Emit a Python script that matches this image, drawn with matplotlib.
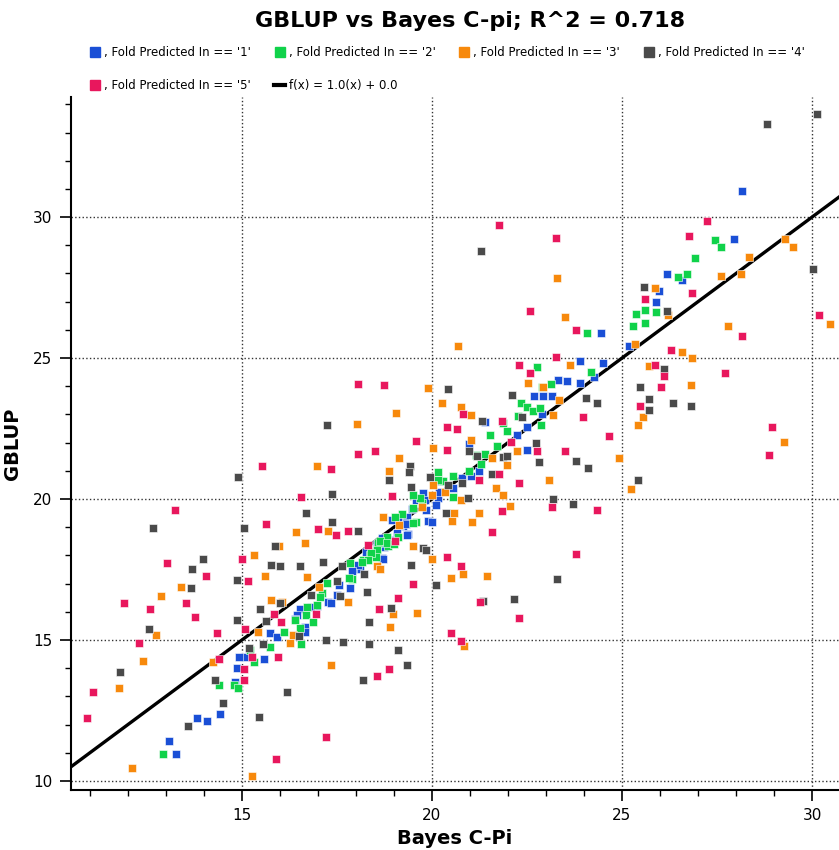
import numpy as np
import matplotlib
matplotlib.use('Agg')
import matplotlib.pyplot as plt
from matplotlib.lines import Line2D
from matplotlib.ticker import MultipleLocator

# values (Bayes C-Pi, GBLUP) per fold
fold1_x = [28.16, 27.95, 26.18, 26.58, 25.97, 25.89, 25.18, 24.45, 24.50, 23.89, 24.26, 23.32, 23.55, 23.89,
           22.68, 22.92, 23.16, 22.89, 22.50, 22.24, 22.50, 21.39, 20.97, 21.24, 21.03, 20.79, 20.24, 20.55,
           20.16, 19.76, 19.84, 19.89, 20.00, 20.11, 20.18, 19.82, 19.58, 19.47, 19.34, 19.29, 19.24, 19.37,
           19.11, 18.95, 19.08, 18.92, 19.16, 19.32, 19.34, 18.68, 18.74, 18.45, 18.26, 18.68, 18.55, 18.71,
           18.55, 18.11, 17.92, 18.05, 17.89, 17.84, 17.55, 17.50, 17.26, 17.34, 16.97, 16.82, 16.53, 16.45,
           16.40, 16.66, 16.66, 15.74, 15.92, 15.58, 15.11, 14.92, 14.87, 14.82, 14.42, 14.08, 13.82, 13.08, 13.26]
fold1_y = [30.92, 29.22, 27.98, 27.77, 27.38, 26.99, 25.43, 25.89, 24.82, 24.89, 24.33, 24.22, 24.18, 24.11,
           23.65, 23.65, 23.65, 23.01, 22.55, 22.27, 21.74, 22.73, 21.95, 20.99, 20.82, 20.74, 20.64, 20.39,
           20.04, 20.21, 19.61, 19.22, 19.18, 19.79, 20.25, 19.96, 19.96, 19.65, 19.36, 19.15, 19.04, 18.76,
           19.26, 19.26, 18.79, 18.55, 19.08, 19.11, 18.72, 18.62, 18.30, 18.12, 18.12, 17.91, 18.26, 17.87,
           18.40, 17.52, 17.52, 17.66, 17.45, 16.84, 16.95, 16.60, 16.35, 16.31, 16.21, 16.17, 16.10, 15.89,
           15.74, 15.46, 15.28, 15.25, 15.11, 14.33, 14.40, 14.40, 14.01, 13.51, 12.38, 12.13, 12.23, 11.42, 10.96]

fold2_x = [27.45, 27.61, 26.92, 26.47, 26.71, 25.37, 25.61, 25.89, 25.29, 25.61, 24.08, 24.18, 22.76, 23.13,
           22.89, 22.34, 22.50, 22.66, 22.84, 22.87, 22.26, 21.87, 21.97, 21.53, 21.71, 21.16, 21.39, 21.29,
           20.97, 20.55, 20.16, 20.29, 20.55, 20.16, 19.74, 19.68, 19.50, 19.50, 19.21, 19.58, 19.03, 19.11,
           18.82, 18.58, 18.84, 18.55, 18.37, 18.53, 18.63, 18.82, 18.99, 19.50, 18.18, 18.39, 18.32, 18.16,
           17.84, 17.89, 17.82, 17.24, 17.11, 17.05, 16.97, 16.71, 16.68, 16.87, 16.39, 16.53, 16.11, 16.55,
           15.74, 15.32, 15.21, 14.39, 14.79, 14.89, 12.92]
fold2_y = [29.18, 28.94, 28.55, 27.87, 27.98, 26.56, 26.70, 26.63, 26.13, 26.24, 25.89, 24.50, 24.68, 24.08,
           23.97, 23.40, 23.26, 23.12, 23.23, 22.62, 22.94, 22.70, 22.41, 22.27, 21.88, 21.56, 21.60, 21.24,
           20.99, 20.82, 20.96, 20.64, 20.07, 20.67, 19.86, 20.04, 20.14, 19.68, 19.47, 19.18, 19.36, 18.65,
           18.65, 18.44, 18.33, 18.19, 18.01, 17.94, 18.51, 18.44, 18.40, 19.15, 17.84, 18.09, 17.84, 17.77,
           17.73, 17.16, 17.20, 17.02, 16.67, 16.52, 16.24, 16.17, 15.89, 15.64, 15.71, 15.43, 15.28, 14.86,
           14.75, 14.22, 14.65, 13.40, 13.40, 13.30, 10.96]

fold3_x = [29.29, 29.50, 28.34, 27.61, 28.13, 25.87, 26.21, 23.29, 23.50, 30.47, 27.79, 25.34, 26.58, 26.84,
           20.68, 23.63, 22.53, 22.92, 23.34, 23.18, 25.71, 26.82, 25.55, 25.42, 29.26, 24.92, 25.24, 19.89,
           20.26, 20.76, 21.03, 20.03, 21.03, 22.24, 21.58, 21.97, 23.08, 21.68, 21.87, 22.05, 21.24, 20.58,
           20.53, 21.05, 20.03, 20.34, 20.76, 20.00, 20.50, 20.82, 21.45, 20.84, 19.13, 19.05, 18.03, 18.87,
           16.97, 16.42, 17.26, 16.66, 15.97, 15.32, 15.61, 16.71, 13.39, 12.87, 15.76, 16.05, 15.42, 16.26,
           16.34, 14.24, 12.74, 12.39, 11.76, 12.11, 15.26, 17.34, 17.79, 17.03, 18.55, 18.63, 19.50, 18.89,
           18.97, 19.61, 18.71, 19.13, 19.74, 20.00]
fold3_y = [29.22, 28.94, 28.58, 27.91, 27.98, 27.48, 26.52, 27.84, 26.45, 26.21, 26.13, 25.50, 25.21, 25.00,
           25.43, 24.75, 24.11, 23.97, 23.51, 22.98, 24.72, 24.04, 22.91, 22.62, 22.02, 21.45, 20.35, 23.94,
           23.40, 23.26, 22.98, 21.81, 22.09, 21.70, 21.45, 21.21, 20.67, 20.39, 20.14, 19.75, 19.50, 19.50,
           19.22, 19.18, 20.50, 20.25, 19.96, 17.87, 17.20, 17.34, 17.27, 14.79, 21.45, 23.05, 22.66, 20.99,
           21.17, 18.83, 18.87, 18.44, 18.33, 18.01, 17.27, 17.23, 16.88, 16.56, 16.42, 16.35, 15.28, 14.89,
           15.18, 14.22, 15.18, 14.26, 13.30, 10.46, 10.18, 14.11, 16.35, 16.88, 17.62, 17.52, 18.33, 15.46,
           15.92, 15.96, 19.36, 19.08, 19.72, 20.14]

fold4_x = [30.13, 28.82, 30.03, 25.58, 26.18, 21.29, 26.11, 25.47, 25.71, 25.71, 26.34, 26.82, 25.42, 24.05,
           24.34, 22.11, 20.42, 21.32, 22.37, 22.74, 20.97, 21.87, 21.97, 21.58, 22.82, 23.79, 24.11, 23.18,
           23.71, 20.37, 19.95, 20.42, 20.79, 20.95, 21.18, 19.76, 19.84, 20.11, 23.29, 21.34, 22.16, 19.42,
           19.39, 19.45, 18.87, 17.24, 14.89, 17.37, 17.37, 16.68, 12.66, 15.05, 15.87, 13.97, 13.68, 15.76,
           16.00, 16.53, 17.13, 17.63, 18.05, 14.87, 13.66, 16.00, 15.47, 15.63, 14.87, 12.55, 11.79, 13.58,
           14.50, 14.29, 15.45, 16.18, 15.18, 15.55, 16.50, 17.21, 17.66, 18.34, 18.18, 19.11, 19.34, 18.34,
           18.92, 17.58, 18.29, 16.82, 17.50, 18.21, 19.45]
fold4_y = [33.65, 33.30, 28.16, 27.52, 26.67, 28.79, 24.61, 23.97, 23.55, 23.16, 23.40, 23.30, 20.67, 23.58,
           23.40, 23.69, 23.90, 22.77, 22.91, 21.99, 21.70, 21.49, 21.52, 20.89, 21.31, 21.35, 21.10, 20.00,
           19.82, 19.50, 20.78, 20.50, 20.57, 20.04, 21.52, 18.26, 18.19, 16.95, 17.16, 16.38, 16.45, 21.17,
           20.96, 20.43, 20.67, 22.62, 20.78, 20.18, 19.18, 19.50, 18.97, 18.97, 18.33, 17.87, 17.52, 17.66,
           17.62, 17.62, 17.77, 17.62, 18.87, 17.13, 16.84, 16.31, 16.10, 15.67, 15.71, 15.39, 13.87, 11.95,
           12.77, 13.58, 12.27, 13.16, 14.72, 14.86, 15.14, 15.00, 14.93, 14.86, 13.58, 14.65, 14.11, 15.64,
           16.13, 16.56, 16.70, 16.60, 17.09, 17.34, 17.66]

fold5_x = [27.24, 26.76, 21.76, 23.26, 25.61, 26.84, 22.58, 30.18, 28.16, 23.79, 26.29, 23.26, 22.29, 22.58,
           25.87, 26.11, 26.03, 27.71, 25.47, 23.97, 28.95, 28.87, 24.66, 20.82, 20.39, 20.66, 21.84, 20.39,
           22.08, 22.76, 23.50, 21.76, 21.24, 22.29, 21.84, 23.16, 24.34, 21.58, 20.39, 20.76, 23.79, 21.26,
           22.29, 20.50, 20.76, 18.05, 18.74, 19.58, 18.05, 18.50, 17.34, 15.53, 16.55, 18.95, 17.00, 17.47,
           17.79, 15.63, 13.24, 13.03, 15.00, 15.16, 14.05, 11.89, 12.58, 13.53, 13.76, 15.84, 16.03, 12.29,
           14.34, 15.08, 14.39, 15.26, 15.05, 15.05, 11.08, 10.92, 15.89, 17.21, 15.95, 18.55, 18.87, 18.61,
           19.11, 16.95, 18.32, 19.03, 19.50]
fold5_y = [29.86, 29.33, 29.72, 29.26, 27.09, 27.30, 26.67, 26.52, 25.78, 25.99, 25.28, 25.04, 24.75, 24.47,
           24.75, 24.36, 23.97, 24.47, 23.30, 22.91, 22.55, 21.56, 22.23, 23.01, 22.55, 22.48, 22.77, 21.74,
           22.02, 21.70, 21.70, 20.89, 20.67, 20.57, 19.57, 19.72, 19.61, 18.83, 17.94, 17.62, 18.05, 16.35,
           15.78, 15.25, 14.96, 24.08, 24.04, 22.06, 21.60, 21.70, 21.06, 21.17, 20.07, 20.11, 18.94, 18.72,
           18.87, 19.11, 19.61, 17.73, 17.87, 17.09, 17.27, 16.31, 16.10, 16.31, 15.82, 15.92, 15.64, 14.89,
           15.25, 15.39, 14.33, 14.40, 13.97, 13.58, 13.16, 12.23, 10.78, 11.56, 14.40, 13.72, 13.97, 16.10,
           16.49, 15.92, 18.37, 18.51, 16.99]

fold_labels = ["1", "2", "3", "4", "5"]
fold_colors = ['#1a4fd6', '#10d24a', '#f7890c', '#4a4a4a', '#e8175d']

narrow = ['Liberation Sans Narrow', 'DejaVu Sans']

fig = plt.figure(figsize=(8.39, 8.5), dpi=100)
ax = fig.add_axes([70.5 / 839, 60 / 850, (839 - 70.5) / 839, 693 / 850])

xlim = (10.49, 30.71)
ylim = (9.68, 34.26)

# fitted line f(x) = 1.0(x) + 0.0
line_x = np.array(xlim)
ax.plot(line_x, 1.0 * line_x + 0.0, color='black', linewidth=2.4, zorder=2)

folds = [(fold1_x, fold1_y), (fold2_x, fold2_y), (fold3_x, fold3_y), (fold4_x, fold4_y), (fold5_x, fold5_y)]
for (fx, fy), c in zip(folds, fold_colors):
    ax.scatter(fx, fy, marker='s', s=34, color=c, edgecolors='white', linewidths=0.4, zorder=3)

ax.set_xlim(xlim)
ax.set_ylim(ylim)
ax.xaxis.set_major_locator(MultipleLocator(5))
ax.xaxis.set_minor_locator(MultipleLocator(1))
ax.yaxis.set_major_locator(MultipleLocator(5))
ax.yaxis.set_minor_locator(MultipleLocator(1))
ax.tick_params(which='major', length=8, width=1.2, labelsize=11, pad=5, direction='out')
ax.tick_params(which='minor', length=4.5, width=1.0, direction='out')
ax.grid(which='major', linestyle=':', color='#333333', linewidth=1.0)
for s in ['top', 'right']:
    ax.spines[s].set_visible(False)
ax.spines['left'].set_linewidth(1.5)
ax.spines['bottom'].set_linewidth(1.5)
ax.set_axisbelow(True)

ax.set_xlabel('Bayes C-Pi', fontsize=14, fontweight='bold', labelpad=4)
ax.set_ylabel('GBLUP', fontsize=14, fontweight='bold', labelpad=8)

fig.text(470 / 839, 1 - 21 / 850, 'GBLUP vs Bayes C-pi; R^2 = 0.718', ha='center', va='center',
         fontsize=16, fontweight='bold', family=narrow)

handles = [Line2D([], [], marker='s', linestyle='none', markersize=7, color=c) for c in fold_colors]
labels = [", Fold Predicted In == '%s'" % f for f in fold_labels]
handles.append(Line2D([], [], color='black', linewidth=3))
labels.append('f(x) = 1.0(x) + 0.0')
order = [0, 4, 1, 5, 2, 3]
fig.legend([handles[i] for i in order], [labels[i] for i in order], ncol=4, loc='upper left',
           bbox_to_anchor=(85 / 839, 1 - 41 / 850), frameon=False, prop={'family': narrow, 'size': 8.5},
           handlelength=0.9, handletextpad=0.3, columnspacing=2.0, labelspacing=1.75, borderaxespad=0)

plt.savefig('out.png', dpi=100)
